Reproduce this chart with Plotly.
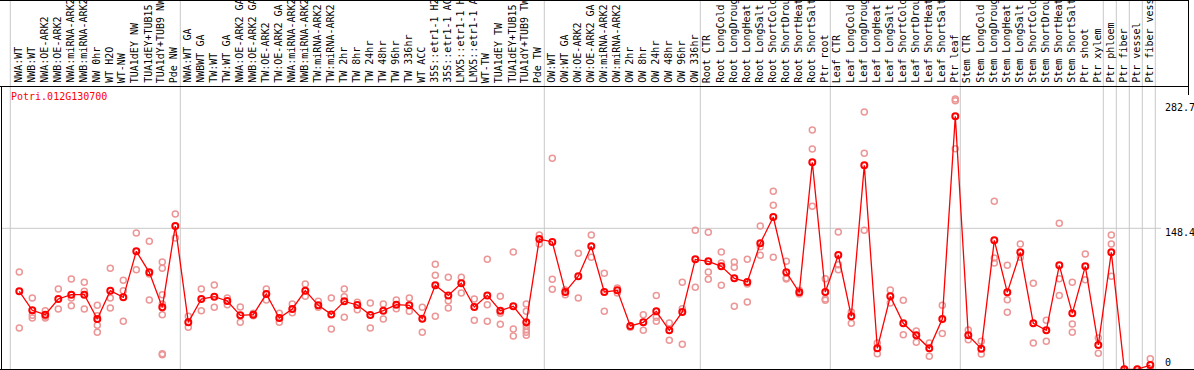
import plotly.graph_objects as go

gene_id = "Potri.012G130700"

samples = [
    "NWA:WT", "NWB:WT", "NWA:OE-ARK2", "NWB:OE-ARK2", "NWA:miRNA-ARK2", "NWB:miRNA-ARK2",
    "NW 0hr", "WT H2O", "WT-NW", "TUA1dEY NW", "TUA1dEY+TUB15", "TUA1dY+TUB9 NW", "Pde NW",
    "NWA:WT GA", "NWBWT GA", "TW:WT", "TW:WT GA", "NWA:OE-ARK2 GA", "NWB:OE-ARK2 GA",
    "TW:OE-ARK2", "TW:OE-ARK2 GA", "NWA:miRNA-ARK2", "NWB:miRNA-ARK2", "TW:miRNA-ARK2",
    "TW:miRNA-ARK2", "TW 2hr", "TW 8hr", "TW 24hr", "TW 48hr", "TW 96hr", "TW 336hr",
    "WT ACC", "35S::etr1-1 H2", "35S::etr1-1 AC", "LMX5::etr1-1 H", "LMX5::etr1-1 A",
    "WT-TW", "TUA1dEY TW", "TUA1dEY+TUB15", "TUA1dY+TUB9 TW", "Pde TW",
    "OW:WT", "OW:WT GA", "OW:OE-ARK2", "OW:OE-ARK2 GA", "OW:miRNA-ARK2", "OW:miRNA-ARK2",
    "OW 2hr", "OW 8hr", "OW 24hr", "OW 48hr", "OW 96hr", "OW 336hr",
    "Root CTR", "Root LongCold", "Root LongDroug", "Root LongHeat", "Root LongSalt",
    "Root ShortCold", "Root ShortDrou", "Root ShortHeat", "Root ShortSalt", "Ptr root",
    "Leaf CTR", "Leaf LongCold", "Leaf LongDroug", "Leaf LongHeat", "Leaf LongSalt",
    "Leaf ShortCold", "Leaf ShortDrou", "Leaf ShortHeat", "Leaf ShortSalt", "Ptr leaf",
    "Stem CTR", "Stem LongCold", "Stem LongDroug", "Stem LongHeat", "Stem LongSalt",
    "Stem ShortCold", "Stem ShortDrou", "Stem ShortHeat", "Stem ShortSalt", "Ptr shoot",
    "Ptr xylem", "Ptr phloem", "Ptr fiber", "Ptr vessel", "Ptr fiber vess",
]

means = [
    82.1, 62.1, 57.5, 74.0, 78.5, 78.5, 52.9, 82.8, 75.7, 124.2, 102.1, 65.2, 150.8,
    49.4, 74.0, 76.4, 71.9, 56.8, 57.5, 79.2, 54.0, 63.5, 82.8, 67.3, 57.8, 71.5, 67.7, 57.1, 61.7,
    68.0, 67.3, 53.3, 88.4, 77.8, 90.5, 65.6, 77.8, 61.7, 66.3, 49.4, 137.1,
    134.0, 81.4, 97.9, 129.4, 81.4, 83.1, 45.6, 49.4, 61.0, 41.0, 60.3, 115.7,
    113.6, 108.4, 95.7, 91.9, 132.6, 160.3, 102.1, 81.0, 217.9, 81.4,
    120.3, 55.7, 214.7, 22.1, 76.8, 48.4, 35.7, 22.1, 52.9, 266.3,
    35.7, 21.7, 135.7, 81.0, 123.1, 48.4, 41.0, 109.4, 58.9, 108.4,
    25.6, 123.1, 0.0, 0.0, 4.5,
]

replicates = [
    [102.4, 43.4], [75.0, 56.8, 54.0], [61.7, 55.7, 54.0], [84.5, 63.5], [95.0, 75.0, 67.0],
    [91.5, 82.1, 63.5], [67.3, 56.4, 46.3, 38.9], [106.3, 75.0, 64.5], [93.6, 82.8, 50.5],
    [143.5, 104.9], [134.7, 100.3, 72.9], [113.0, 106.3, 78.5, 68.7, 57.5, 16.4, 15.4],
    [163.5, 138.2],
    [55.7, 44.2], [84.5, 61.7], [88.7, 65.2], [75.0, 68.0], [65.6, 49.4], [58.9, 56.4],
    [84.5, 72.9], [58.9, 49.4], [68.7, 59.6], [89.8, 76.8], [71.5, 65.2], [75.0, 42.4],
    [84.5, 76.4, 54.7], [70.5, 62.8], [69.8, 43.4], [68.7, 52.9],
    [72.9, 63.8], [75.0, 61.0], [65.2, 38.9], [110.5, 98.9, 55.7], [96.8, 72.2, 64.5],
    [96.8, 80.3], [74.0, 51.5], [115.7, 68.0, 50.5], [76.8, 58.9, 47.3], [123.5, 42.4, 35.0],
    [68.7, 61.0, 45.2, 41.7, 38.9, 35.7], [141.4, 131.9],
    [222.1, 94.7, 84.2], [83.4, 78.5], [122.1, 75.0], [141.4, 117.9], [101.0, 61.0],
    [85.6, 80.3], [44.2], [57.5, 41.0], [77.8, 54.7, 50.5], [48.7, 30.5], [91.5, 63.8, 26.3],
    [146.3, 86.3],
    [144.2, 102.4, 94.7], [123.5, 111.9, 88.4], [113.0, 107.3, 66.3], [115.7, 89.8, 70.8],
    [150.8, 129.1, 120.0], [187.3, 172.6, 117.9], [113.6, 96.1, 95.0], [83.1, 79.2],
    [251.9, 231.9, 171.5], [95.4, 74.0, 72.6],
    [144.5, 110.1, 104.9], [60.3, 48.4], [270.8, 227.3, 146.3], [27.7, 16.4], [83.4, 69.8],
    [72.6, 36.4], [40.3, 28.4], [27.7, 13.6], [67.3, 37.8], [284.5, 282.8, 232.2],
    [41.4, 31.2], [29.4, 16.1], [176.8, 117.2, 111.9], [109.4, 73.3, 60.0], [131.9, 117.9],
    [90.5, 27.7], [51.5, 29.4], [153.6, 95.4, 77.8], [91.5, 47.7, 38.9], [121.4, 94.3],
    [33.0, 16.8], [141.4, 131.9, 97.9], [0.0], [0.0], [11.2, 0.0],
]

# group separators: after these sample indices
group_ends = [-1, 12, 40, 52, 62, 72, 83, 84, 85, 86, 87]

y_tick_values = [282.7, 148.4, 0]
y_tick_labels = ["282.7", "148.4", "0"]

W, H = 1194, 370
ML, MR, MT, MB = 2, 6, 86, 1
PW = W - ML - MR
PH = H - MT - MB


def px_to_paper_x(px):
    return (px - ML) / PW


def px_to_paper_y(py):
    return (H - MB - py) / PH


idx = list(range(len(samples)))
rep_x, rep_y = [], []
for i, reps in enumerate(replicates):
    for v in reps:
        rep_x.append(i)
        rep_y.append(v)

fig = go.Figure()
fig.add_trace(go.Scatter(
    x=rep_x, y=rep_y, mode="markers",
    marker=dict(symbol="circle-open", size=6, color="rgb(236,150,150)", line=dict(width=1.5)),
    hoverinfo="skip", showlegend=False,
))
fig.add_trace(go.Scatter(
    x=idx, y=means, mode="lines+markers",
    line=dict(color="#ff0000", width=1.3),
    marker=dict(symbol="circle-open", size=6, color="#ff0000", line=dict(width=2)),
    showlegend=False,
))

shapes = []
top_paper = px_to_paper_y(0)
for g in group_ends:
    xs = g + 5 / 13 if g >= 0 else -0.692
    shapes.append(dict(type="line", xref="x", yref="paper", x0=xs, x1=xs, y0=0, y1=top_paper,
                       line=dict(color="#c8c8c8", width=1), layer="below"))
# horizontal grid line at 148.4
shapes.append(dict(type="line", xref="paper", yref="y", x0=0, x1=px_to_paper_x(1161),
                   y0=y_tick_values[1], y1=y_tick_values[1],
                   line=dict(color="#c8c8c8", width=1), layer="below"))
blk = dict(color="black", width=1)
shapes += [
    dict(type="line", xref="paper", yref="paper", x0=px_to_paper_x(0), x1=px_to_paper_x(1188.5),
         y0=px_to_paper_y(0.5), y1=px_to_paper_y(0.5), line=blk),
    dict(type="line", xref="paper", yref="paper", x0=px_to_paper_x(0), x1=px_to_paper_x(1188.5),
         y0=px_to_paper_y(86.5), y1=px_to_paper_y(86.5), line=blk),
    dict(type="line", xref="paper", yref="paper", x0=px_to_paper_x(1188.5), x1=px_to_paper_x(1188.5),
         y0=px_to_paper_y(0), y1=px_to_paper_y(95), line=blk),
    dict(type="line", xref="paper", yref="paper", x0=px_to_paper_x(1.5), x1=px_to_paper_x(1.5),
         y0=px_to_paper_y(86), y1=px_to_paper_y(370), line=blk),
    dict(type="line", xref="paper", yref="paper", x0=px_to_paper_x(0), x1=px_to_paper_x(1194),
         y0=px_to_paper_y(369.5), y1=px_to_paper_y(369.5), line=blk),
]

mono = "DejaVu Sans Mono"
annotations = []
for i, name in enumerate(samples):
    annotations.append(dict(
        x=i - 0.12, xref="x", y=1, yref="paper", text=name, textangle=-90,
        xanchor="center", yanchor="bottom", yshift=1, showarrow=False,
        font=dict(family=mono, size=10, color="black"),
    ))
label_py = [107.3, 232.5, 362.5]
for lab, py in zip(y_tick_labels, label_py):
    annotations.append(dict(
        x=px_to_paper_x(1163), xref="paper", y=px_to_paper_y(py), yref="paper", text=lab,
        xanchor="left", yanchor="middle", showarrow=False,
        font=dict(family=mono, size=10, color="black"),
    ))
annotations.append(dict(
    x=px_to_paper_x(9), xref="paper", y=px_to_paper_y(96.5), yref="paper", text=gene_id,
    xanchor="left", yanchor="middle", showarrow=False,
    font=dict(family=mono, size=10, color="#ff0000"),
))

x_left = (ML - 19.3) / 13
x_right = (W - MR - 19.3) / 13
fig.update_layout(
    width=W, height=H,
    margin=dict(l=ML, r=MR, t=MT, b=MB, pad=0),
    paper_bgcolor="white", plot_bgcolor="white",
    xaxis=dict(range=[x_left, x_right], visible=False, fixedrange=True),
    yaxis=dict(range=[0.3, 298.2], visible=False, fixedrange=True),
    shapes=shapes, annotations=annotations,
)

fig.write_html(
    "out.html",
    config={"displayModeBar": False},
    post_script="document.body.style.margin='0';document.body.style.overflow='hidden';",
)
